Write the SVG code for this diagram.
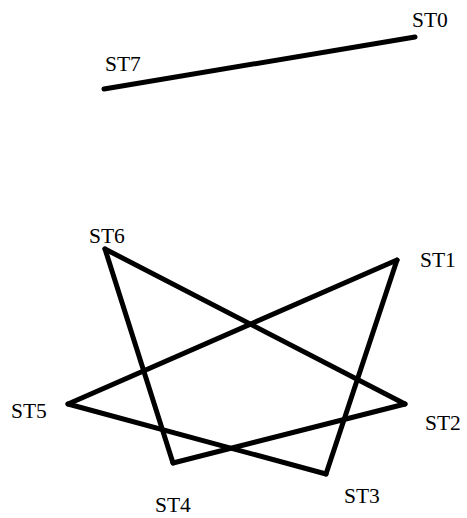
<svg xmlns="http://www.w3.org/2000/svg" width="467" height="518" viewBox="0 0 467 518">
<style>
.e{stroke:#000;stroke-width:5;stroke-linecap:round;fill:none}
text{font-family:"Liberation Serif","Times New Roman",serif;font-size:21.5px;fill:#000}
</style>
<rect width="467" height="518" fill="#fff"/>
<g id="connectors">
<line class="e" x1="104" y1="89" x2="415" y2="37"/>
<line class="e" x1="105" y1="249" x2="405" y2="404"/>
<line class="e" x1="105" y1="249" x2="173" y2="463"/>
<line class="e" x1="397" y1="260" x2="68" y2="404"/>
<line class="e" x1="397" y1="260" x2="326" y2="474"/>
<line class="e" x1="68" y1="404" x2="326" y2="474"/>
<line class="e" x1="173" y1="463" x2="405" y2="404"/>
</g>
<g id="ST0"><text x="412" y="27">ST0</text></g>
<g id="ST7"><text x="105" y="71">ST7</text></g>
<g id="ST6"><text x="89" y="243">ST6</text></g>
<g id="ST1"><text x="420" y="267">ST1</text></g>
<g id="ST5"><text x="11" y="418">ST5</text></g>
<g id="ST2"><text x="425" y="430">ST2</text></g>
<g id="ST4"><text x="155" y="512">ST4</text></g>
<g id="ST3"><text x="344" y="503">ST3</text></g>
</svg>
